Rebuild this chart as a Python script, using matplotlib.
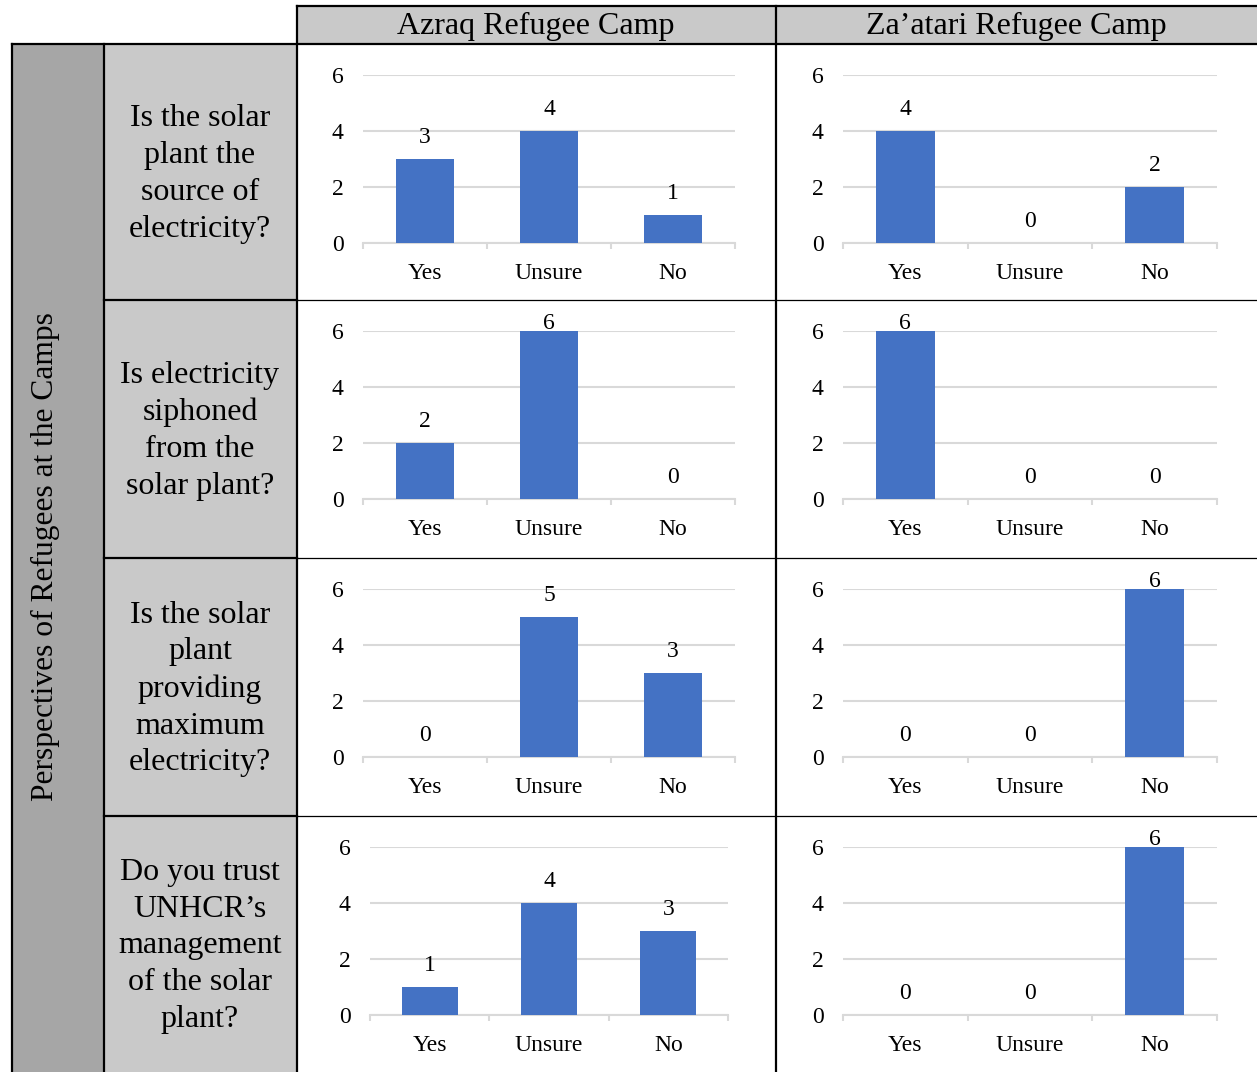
"""
Refugee perspectives on the camp solar plants - table of small bar charts.
"""

import matplotlib
matplotlib.use('Agg')
import matplotlib.pyplot as plt
from matplotlib.patches import Rectangle

plt.rcParams['font.family'] = ['Liberation Serif', 'DejaVu Serif']

# data
categories = ['Yes', 'Unsure', 'No']
camps = ['Azraq Refugee Camp', 'Za\u2019atari Refugee Camp']
questions = [
    'Is the solar\nplant the\nsource of\nelectricity?',
    'Is electricity\nsiphoned\nfrom the\nsolar plant?',
    'Is the solar\nplant\nproviding\nmaximum\nelectricity?',
    'Do you trust\nUNHCR\u2019s\nmanagement\nof the solar\nplant?',
]
azraq = [[3, 4, 1], [2, 6, 0], [0, 5, 3], [1, 4, 3]]
zaatari = [[4, 0, 2], [6, 0, 0], [0, 0, 6], [0, 0, 6]]
row_title = 'Perspectives of Refugees at the Camps'
yticks = [0, 2, 4, 6]

# layout (pixels)
W, H = 1257, 1072
BAR = '#4472C4'
GRID = '#D9D9D9'
LIGHT = '#C9C9C9'
DARK = '#A6A6A6'
row_tops = [44, 300, 558, 816]
col_x = [297, 776]
azraq_x = [(363, 735), (363, 735), (363, 735), (370, 728)]
zaatari_x = [(843, 1217)] * 4

fig = plt.figure(figsize=(W / 100, H / 100), dpi=100)
bg = fig.add_axes([0, 0, 1, 1])
bg.set_xlim(0, W)
bg.set_ylim(H, 0)
bg.axis('off')

# shaded cells
bg.add_patch(Rectangle((297, 6), W - 297 + 5, 38, facecolor=LIGHT, edgecolor='none'))
bg.add_patch(Rectangle((12, 44), 92, H - 44 + 5, facecolor=DARK, edgecolor='none'))
bg.add_patch(Rectangle((104, 44), 193, H - 44 + 5, facecolor=LIGHT, edgecolor='none'))

thick = 1.6
thin = 0.9
bg.plot([297, W + 5], [6, 6], color='black', lw=thick)
bg.plot([12, W + 5], [44, 44], color='black', lw=thick)
for x in [12, 104]:
    bg.plot([x, x], [44, H + 5], color='black', lw=thick)
for x in col_x:
    bg.plot([x, x], [6, H + 5], color='black', lw=thick)
for t in row_tops[1:]:
    bg.plot([104, 297], [t, t], color='black', lw=thick)
    bg.plot([297, W + 5], [t, t], color='black', lw=thin)

# header text
bg.text(536, 26, camps[0], ha='center', va='center', fontsize=23)
bg.text(1016, 26, camps[1], ha='center', va='center', fontsize=23)
bg.text(45, 557, row_title, ha='center', va='center', rotation=90, fontsize=22.7)

row_bottoms = row_tops[1:] + [H]
for i, q in enumerate(questions):
    yc = (row_tops[i] + row_bottoms[i]) / 2
    bg.text(200, yc + 2, q, ha='center', va='center', fontsize=23, linespacing=1.35)


def draw_chart(x0, x1, top, values):
    y6 = top + 31
    y0 = top + 199
    ax = fig.add_axes([x0 / W, 1 - y0 / H, (x1 - x0) / W, (y0 - y6) / H])
    ax.patch.set_alpha(0)
    pos = range(len(categories))
    ax.bar(pos, values, width=0.47, color=BAR, zorder=3)
    ax.set_xlim(-0.5, 2.5)
    ax.set_ylim(0, 6)
    ax.set_yticks(yticks)
    ax.yaxis.grid(True, color=GRID, linewidth=1.5)
    ax.set_axisbelow(True)
    ax.set_xticks(list(pos), categories)
    ax.set_xticks([-0.5, 0.5, 1.5, 2.5], minor=True)
    ax.tick_params(axis='y', length=0, pad=14, labelsize=17)
    ax.tick_params(axis='x', which='major', length=0, pad=14.5, labelsize=17)
    ax.tick_params(axis='x', which='minor', length=4.5, width=1.5, color=GRID)
    for s in ['top', 'right', 'left']:
        ax.spines[s].set_visible(False)
    ax.spines['bottom'].set_color(GRID)
    ax.spines['bottom'].set_linewidth(1.5)
    for j, v in enumerate(values):
        ax.text(j, min(v + 0.78, 6.27), str(v), ha='center', va='center',
                fontsize=17, clip_on=False)


for i in range(len(questions)):
    draw_chart(azraq_x[i][0], azraq_x[i][1], row_tops[i], azraq[i])
    draw_chart(zaatari_x[i][0], zaatari_x[i][1], row_tops[i], zaatari[i])

fig.savefig('out.png', dpi=100)
